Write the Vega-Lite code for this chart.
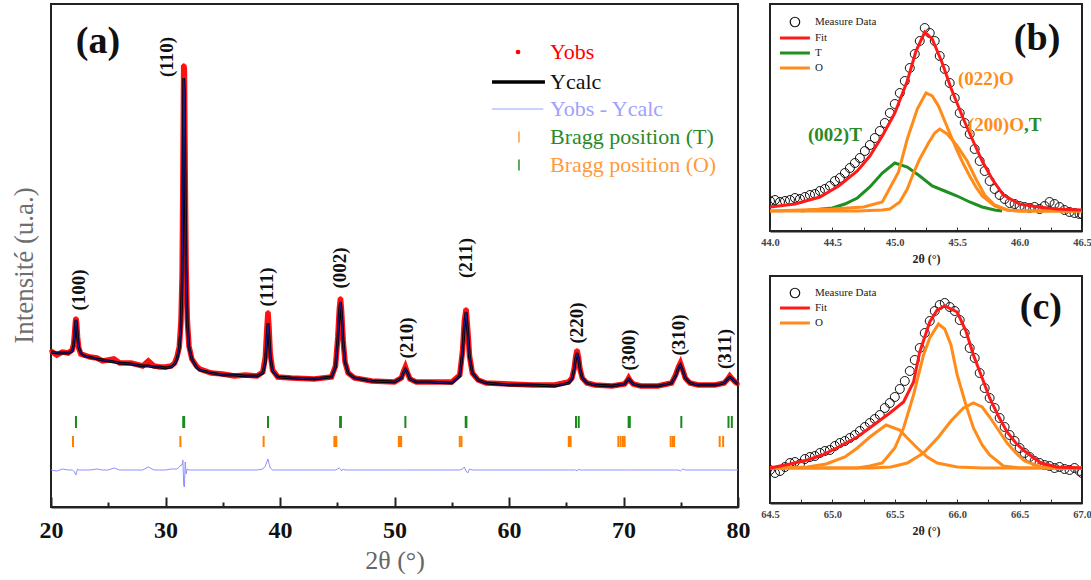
{
  "$schema": "https://vega.github.io/schema/vega-lite/v6.json",
  "background": "white",
  "padding": {"left": 9, "top": 3, "right": 0, "bottom": 0},
  "bounds": "flush",
  "spacing": 32,
  "config": {
    "view": {"stroke": "#222", "strokeWidth": 2},
    "axis": {"grid": false},
    "text": {"font": "Liberation Serif"}
  },
  "datasets": {
    "pattern": [
      {"t":20.0,"calc":155,"obs":156,"diff":37},{"t":20.5,"calc":154,"obs":152,"diff":36},{"t":21.0,"calc":154,"obs":155,"diff":38},
      {"t":21.5,"calc":154,"obs":154,"diff":37},{"t":21.85,"calc":156,"obs":157,"diff":37},{"t":21.98,"calc":162,"obs":163,"diff":36},
      {"t":22.06,"calc":172,"obs":174,"diff":35},{"t":22.13,"calc":183,"obs":185,"diff":33},{"t":22.18,"calc":187,"obs":189,"diff":32},
      {"t":22.24,"calc":182,"obs":184,"diff":35},{"t":22.32,"calc":170,"obs":170,"diff":38},{"t":22.42,"calc":160,"obs":159,"diff":37},
      {"t":22.6,"calc":154,"obs":153,"diff":37},{"t":22.9,"calc":151,"obs":152,"diff":37},{"t":23.4,"calc":150,"obs":150,"diff":37},
      {"t":24.0,"calc":148,"obs":149,"diff":38},{"t":24.5,"calc":147,"obs":146,"diff":37},{"t":25.0,"calc":146,"obs":147,"diff":37},
      {"t":25.5,"calc":145,"obs":148,"diff":39},{"t":26.0,"calc":144,"obs":144,"diff":37},{"t":27.0,"calc":143,"obs":144,"diff":37},
      {"t":28.0,"calc":141,"obs":141,"diff":37},{"t":28.5,"calc":141,"obs":146,"diff":40},{"t":29.0,"calc":140,"obs":141,"diff":37},
      {"t":29.5,"calc":140,"obs":140,"diff":37},{"t":30.0,"calc":139,"obs":140,"diff":37},{"t":30.5,"calc":140,"obs":141,"diff":38},
      {"t":30.8,"calc":143,"obs":144,"diff":38},{"t":31.0,"calc":148,"obs":150,"diff":38},{"t":31.2,"calc":158,"obs":160,"diff":40},
      {"t":31.35,"calc":180,"obs":185,"diff":42},{"t":31.45,"calc":225,"obs":232,"diff":42},{"t":31.52,"calc":320,"obs":330,"diff":47},
      {"t":31.59,"calc":429,"obs":442,"diff":22},{"t":31.65,"calc":415,"obs":438,"diff":20},{"t":31.72,"calc":320,"obs":335,"diff":45},
      {"t":31.8,"calc":235,"obs":240,"diff":33},{"t":31.9,"calc":185,"obs":188,"diff":38},{"t":32.05,"calc":160,"obs":161,"diff":37},
      {"t":32.3,"calc":148,"obs":148,"diff":37},{"t":32.7,"calc":140,"obs":141,"diff":37},{"t":33.0,"calc":137,"obs":138,"diff":37},
      {"t":34.0,"calc":134,"obs":134,"diff":37},{"t":35.0,"calc":132,"obs":133,"diff":37},{"t":36.0,"calc":132,"obs":131,"diff":37},
      {"t":37.0,"calc":131,"obs":132,"diff":37},{"t":38.0,"calc":131,"obs":131,"diff":37},{"t":38.5,"calc":134,"obs":135,"diff":38},
      {"t":38.72,"calc":145,"obs":150,"diff":41},{"t":38.85,"calc":168,"obs":178,"diff":45},{"t":38.95,"calc":184,"obs":195,"diff":48},
      {"t":39.05,"calc":170,"obs":178,"diff":43},{"t":39.15,"calc":150,"obs":153,"diff":39},{"t":39.35,"calc":136,"obs":137,"diff":37},
      {"t":39.8,"calc":130,"obs":130,"diff":37},{"t":41.0,"calc":129,"obs":129,"diff":37},{"t":43.0,"calc":128,"obs":128,"diff":37},
      {"t":44.5,"calc":130,"obs":130,"diff":37},{"t":44.85,"calc":140,"obs":141,"diff":37},{"t":45.05,"calc":168,"obs":170,"diff":38},
      {"t":45.18,"calc":195,"obs":198,"diff":39},{"t":45.28,"calc":205,"obs":209,"diff":38},{"t":45.38,"calc":193,"obs":196,"diff":36},
      {"t":45.52,"calc":165,"obs":166,"diff":38},{"t":45.68,"calc":145,"obs":145,"diff":37},{"t":45.95,"calc":134,"obs":134,"diff":37},
      {"t":46.5,"calc":129,"obs":129,"diff":37},{"t":48.0,"calc":126,"obs":126,"diff":37},{"t":50.0,"calc":125,"obs":125,"diff":37},
      {"t":50.6,"calc":129,"obs":129,"diff":37},{"t":50.8,"calc":135,"obs":136,"diff":37},{"t":50.95,"calc":138,"obs":140,"diff":37},
      {"t":51.1,"calc":135,"obs":135,"diff":37},{"t":51.35,"calc":128,"obs":128,"diff":37},{"t":51.9,"calc":125,"obs":125,"diff":37},
      {"t":53.0,"calc":125,"obs":125,"diff":37},{"t":55.0,"calc":124,"obs":125,"diff":37},{"t":55.7,"calc":131,"obs":132,"diff":37},
      {"t":55.95,"calc":155,"obs":157,"diff":38},{"t":56.1,"calc":182,"obs":186,"diff":40},{"t":56.25,"calc":195,"obs":198,"diff":36},
      {"t":56.4,"calc":175,"obs":177,"diff":34},{"t":56.55,"calc":150,"obs":151,"diff":38},{"t":56.8,"calc":134,"obs":134,"diff":37},
      {"t":57.3,"calc":127,"obs":127,"diff":37},{"t":58.0,"calc":124,"obs":124,"diff":37},{"t":60.0,"calc":122,"obs":123,"diff":37},
      {"t":62.0,"calc":122,"obs":122,"diff":37},{"t":64.0,"calc":121,"obs":122,"diff":37},{"t":65.2,"calc":124,"obs":125,"diff":37},
      {"t":65.5,"calc":128,"obs":129,"diff":37},{"t":65.7,"calc":138,"obs":139,"diff":37},{"t":65.82,"calc":148,"obs":150,"diff":37},
      {"t":65.94,"calc":154,"obs":157,"diff":36},{"t":66.08,"calc":148,"obs":149,"diff":38},{"t":66.2,"calc":138,"obs":138,"diff":37},
      {"t":66.4,"calc":129,"obs":129,"diff":37},{"t":66.8,"calc":124,"obs":124,"diff":37},{"t":67.5,"calc":122,"obs":122,"diff":37},
      {"t":69.0,"calc":121,"obs":121,"diff":37},{"t":70.1,"calc":123,"obs":123,"diff":37},{"t":70.3,"calc":126,"obs":126,"diff":37},
      {"t":70.45,"calc":128,"obs":129,"diff":37},{"t":70.6,"calc":126,"obs":126,"diff":37},{"t":70.85,"calc":123,"obs":123,"diff":37},
      {"t":71.5,"calc":121,"obs":121,"diff":37},{"t":73.0,"calc":121,"obs":121,"diff":37},{"t":74.2,"calc":124,"obs":124,"diff":37},
      {"t":74.55,"calc":131,"obs":132,"diff":37},{"t":74.8,"calc":139,"obs":140,"diff":37},{"t":74.97,"calc":142,"obs":144,"diff":36},
      {"t":75.15,"calc":137,"obs":138,"diff":38},{"t":75.4,"calc":129,"obs":129,"diff":37},{"t":75.8,"calc":124,"obs":124,"diff":37},
      {"t":76.5,"calc":122,"obs":122,"diff":37},{"t":78.0,"calc":122,"obs":122,"diff":37},{"t":78.8,"calc":124,"obs":124,"diff":37},
      {"t":79.1,"calc":128,"obs":128,"diff":37},{"t":79.28,"calc":130,"obs":131,"diff":37},{"t":79.5,"calc":128,"obs":128,"diff":37},
      {"t":79.75,"calc":125,"obs":125,"diff":37},{"t":80.0,"calc":123,"obs":123,"diff":37}
    ],
    "braggT": [
      {"t":22.18},{"t":31.55},{"t":31.63},{"t":38.95},{"t":45.25},{"t":45.32},{"t":50.95},{"t":56.22},{"t":56.28},
      {"t":65.85},{"t":66.09},{"t":70.45},{"t":70.55},{"t":75.05},{"t":79.17},{"t":79.46}
    ],
    "braggO": [
      {"t":21.92},{"t":31.3},{"t":38.57},{"t":44.75},{"t":44.85},{"t":44.92},{"t":50.38},{"t":50.48},{"t":50.58},
      {"t":55.7},{"t":55.85},{"t":65.22},{"t":65.3},{"t":65.38},{"t":69.55},{"t":69.75},{"t":69.95},{"t":70.1},
      {"t":74.12},{"t":74.3},{"t":74.42},{"t":78.4},{"t":78.7}
    ],
    "peaks": [
      {"hkl":"(100)","t":22.45,"y":217},{"hkl":"(110)","t":30.13,"y":450},{"hkl":"(111)","t":38.87,"y":220},
      {"hkl":"(002)","t":45.24,"y":239},{"hkl":"(210)","t":51.09,"y":169},{"hkl":"(211)","t":56.25,"y":249},
      {"hkl":"(220)","t":65.94,"y":184},{"hkl":"(300)","t":70.48,"y":157},{"hkl":"(310)","t":74.85,"y":172},
      {"hkl":"(311)","t":78.87,"y":158}
    ],
    "legendA": [
      {"label":"Yobs","y":455},{"label":"Ycalc","y":425},{"label":"Yobs - Ycalc","y":398},
      {"label":"Bragg position (T)","y":370},{"label":"Bragg position (O)","y":342}
    ],
    "bObs": [
      {"t":44.00,"y":30},{"t":44.04,"y":31},{"t":44.08,"y":29},{"t":44.12,"y":30},{"t":44.16,"y":31},{"t":44.20,"y":33},
      {"t":44.24,"y":32},{"t":44.28,"y":34},{"t":44.32,"y":36},{"t":44.36,"y":37},{"t":44.40,"y":40},{"t":44.44,"y":42},
      {"t":44.48,"y":45},{"t":44.52,"y":50},{"t":44.56,"y":53},{"t":44.60,"y":58},{"t":44.64,"y":63},{"t":44.68,"y":68},
      {"t":44.72,"y":73},{"t":44.76,"y":80},{"t":44.80,"y":86},{"t":44.84,"y":93},{"t":44.88,"y":100},{"t":44.92,"y":108},
      {"t":44.96,"y":118},{"t":45.00,"y":127},{"t":45.04,"y":138},{"t":45.08,"y":150},{"t":45.12,"y":163},{"t":45.16,"y":177},
      {"t":45.20,"y":190},{"t":45.24,"y":203},{"t":45.28,"y":198},{"t":45.32,"y":190},{"t":45.36,"y":175},{"t":45.40,"y":162},
      {"t":45.44,"y":148},{"t":45.48,"y":133},{"t":45.52,"y":118},{"t":45.56,"y":108},{"t":45.60,"y":97},{"t":45.64,"y":82},
      {"t":45.68,"y":70},{"t":45.72,"y":60},{"t":45.76,"y":50},{"t":45.80,"y":42},{"t":45.84,"y":36},{"t":45.88,"y":32},
      {"t":45.92,"y":28},{"t":45.96,"y":27},{"t":46.00,"y":25},{"t":46.04,"y":24},{"t":46.08,"y":23},{"t":46.12,"y":24},
      {"t":46.16,"y":22},{"t":46.20,"y":25},{"t":46.24,"y":29},{"t":46.28,"y":27},{"t":46.32,"y":24},{"t":46.36,"y":21},
      {"t":46.40,"y":19},{"t":46.44,"y":18},{"t":46.48,"y":17},{"t":46.50,"y":17}
    ],
    "bFit": [
      {"t":44.0,"y":24},{"t":44.2,"y":27},{"t":44.4,"y":34},{"t":44.55,"y":45},{"t":44.7,"y":60},{"t":44.8,"y":75},
      {"t":44.9,"y":95},{"t":45.0,"y":118},{"t":45.1,"y":150},{"t":45.17,"y":180},{"t":45.24,"y":199},{"t":45.3,"y":192},
      {"t":45.38,"y":168},{"t":45.45,"y":143},{"t":45.55,"y":112},{"t":45.62,"y":92},{"t":45.7,"y":70},{"t":45.78,"y":52},
      {"t":45.87,"y":36},{"t":46.0,"y":27},{"t":46.15,"y":24},{"t":46.3,"y":22},{"t":46.5,"y":21}
    ],
    "bT": [
      {"t":44.25,"y":20},{"t":44.5,"y":23},{"t":44.6,"y":27},{"t":44.7,"y":33},{"t":44.8,"y":44},{"t":44.9,"y":58},
      {"t":45.0,"y":68},{"t":45.1,"y":64},{"t":45.2,"y":55},{"t":45.3,"y":45},{"t":45.4,"y":40},{"t":45.5,"y":35},
      {"t":45.6,"y":29},{"t":45.7,"y":24},{"t":45.8,"y":21},{"t":45.86,"y":20}
    ],
    "bO1": [
      {"t":44.0,"y":20},{"t":44.5,"y":22},{"t":44.75,"y":24},{"t":44.9,"y":29},{"t":45.03,"y":59},{"t":45.1,"y":92},
      {"t":45.18,"y":122},{"t":45.25,"y":138},{"t":45.3,"y":135},{"t":45.35,"y":125},{"t":45.4,"y":110},{"t":45.45,"y":95},
      {"t":45.5,"y":80},{"t":45.55,"y":67},{"t":45.6,"y":55},{"t":45.65,"y":44},{"t":45.7,"y":35},{"t":45.8,"y":25},
      {"t":45.9,"y":21},{"t":46.0,"y":20},{"t":46.5,"y":20}
    ],
    "bO2": [
      {"t":44.0,"y":20},{"t":44.7,"y":20},{"t":44.9,"y":21},{"t":44.96,"y":22},{"t":45.04,"y":29},{"t":45.1,"y":42},
      {"t":45.15,"y":58},{"t":45.2,"y":72},{"t":45.27,"y":88},{"t":45.32,"y":98},{"t":45.36,"y":102},{"t":45.42,"y":97},
      {"t":45.5,"y":85},{"t":45.58,"y":70},{"t":45.65,"y":52},{"t":45.72,"y":36},{"t":45.8,"y":26},{"t":45.9,"y":21},
      {"t":46.0,"y":20},{"t":46.5,"y":20}
    ],
    "legendB": [
      {"label":"Measure Data","y":209},{"label":"Fit","y":193},{"label":"T","y":178},{"label":"O","y":163}
    ],
    "cObs": [
      {"t":64.50,"y":33},{"t":64.54,"y":30},{"t":64.58,"y":32},{"t":64.62,"y":36},{"t":64.66,"y":40},{"t":64.70,"y":41},
      {"t":64.74,"y":39},{"t":64.78,"y":44},{"t":64.82,"y":46},{"t":64.86,"y":47},{"t":64.90,"y":50},{"t":64.94,"y":52},
      {"t":64.98,"y":53},{"t":65.02,"y":57},{"t":65.06,"y":60},{"t":65.10,"y":62},{"t":65.14,"y":65},{"t":65.18,"y":68},
      {"t":65.22,"y":72},{"t":65.26,"y":76},{"t":65.30,"y":80},{"t":65.34,"y":84},{"t":65.38,"y":88},{"t":65.42,"y":95},
      {"t":65.46,"y":100},{"t":65.50,"y":106},{"t":65.54,"y":114},{"t":65.58,"y":122},{"t":65.62,"y":132},{"t":65.66,"y":143},
      {"t":65.70,"y":155},{"t":65.74,"y":170},{"t":65.78,"y":182},{"t":65.82,"y":192},{"t":65.86,"y":198},{"t":65.90,"y":200},
      {"t":65.94,"y":196},{"t":65.98,"y":192},{"t":66.02,"y":183},{"t":66.06,"y":170},{"t":66.10,"y":155},{"t":66.14,"y":145},
      {"t":66.18,"y":130},{"t":66.22,"y":115},{"t":66.26,"y":105},{"t":66.30,"y":95},{"t":66.34,"y":85},{"t":66.38,"y":76},
      {"t":66.42,"y":68},{"t":66.46,"y":62},{"t":66.50,"y":55},{"t":66.54,"y":50},{"t":66.58,"y":46},{"t":66.62,"y":42},
      {"t":66.66,"y":40},{"t":66.70,"y":38},{"t":66.74,"y":37},{"t":66.78,"y":35},{"t":66.82,"y":36},{"t":66.86,"y":34},
      {"t":66.90,"y":33},{"t":66.94,"y":35},{"t":66.98,"y":32},{"t":67.00,"y":30}
    ],
    "cFit": [
      {"t":64.5,"y":35},{"t":64.66,"y":39},{"t":64.8,"y":43},{"t":64.92,"y":48},{"t":65.05,"y":56},{"t":65.2,"y":66},
      {"t":65.33,"y":78},{"t":65.46,"y":90},{"t":65.57,"y":101},{"t":65.65,"y":121},{"t":65.7,"y":151},{"t":65.78,"y":181},
      {"t":65.84,"y":193},{"t":65.9,"y":197},{"t":66.0,"y":191},{"t":66.07,"y":172},{"t":66.13,"y":148},{"t":66.2,"y":125},
      {"t":66.26,"y":105},{"t":66.33,"y":87},{"t":66.4,"y":71},{"t":66.47,"y":60},{"t":66.54,"y":52},{"t":66.67,"y":40},
      {"t":66.8,"y":36},{"t":67.0,"y":35}
    ],
    "cO1": [
      {"t":64.5,"y":35},{"t":64.8,"y":36},{"t":64.95,"y":39},{"t":65.1,"y":46},{"t":65.2,"y":55},{"t":65.3,"y":66},
      {"t":65.43,"y":78},{"t":65.54,"y":73},{"t":65.6,"y":65},{"t":65.68,"y":55},{"t":65.76,"y":46},{"t":65.84,"y":40},
      {"t":66.0,"y":36},{"t":66.2,"y":35},{"t":67.0,"y":35}
    ],
    "cO2": [
      {"t":64.5,"y":35},{"t":65.2,"y":35},{"t":65.3,"y":37},{"t":65.4,"y":40},{"t":65.5,"y":55},{"t":65.57,"y":75},
      {"t":65.65,"y":108},{"t":65.73,"y":148},{"t":65.78,"y":165},{"t":65.85,"y":179},{"t":65.9,"y":174},{"t":65.95,"y":158},
      {"t":66.0,"y":128},{"t":66.07,"y":98},{"t":66.13,"y":75},{"t":66.2,"y":58},{"t":66.26,"y":48},{"t":66.37,"y":37},
      {"t":66.5,"y":35},{"t":67.0,"y":35}
    ],
    "cO3": [
      {"t":64.5,"y":35},{"t":65.3,"y":35},{"t":65.47,"y":36},{"t":65.6,"y":40},{"t":65.73,"y":50},{"t":65.85,"y":66},
      {"t":65.95,"y":82},{"t":66.05,"y":95},{"t":66.13,"y":100},{"t":66.2,"y":96},{"t":66.26,"y":86},{"t":66.33,"y":73},
      {"t":66.4,"y":60},{"t":66.47,"y":50},{"t":66.54,"y":42},{"t":66.67,"y":36},{"t":66.8,"y":35},{"t":67.0,"y":35}
    ],
    "legendC": [
      {"label":"Measure Data","y":210},{"label":"Fit","y":195},{"label":"O","y":180}
    ]
  },
  "hconcat": [
    {
      "width": 687,
      "height": 503,
      "resolve": {"axis": {"x": "independent", "y": "independent"}},
      "layer": [
        {
          "data": {"name": "pattern"},
          "mark": {"type": "line", "color": "#ff1010", "strokeWidth": 5.5},
          "encoding": {
            "x": {"field": "t", "type": "quantitative", "scale": {"domain": [20, 80], "nice": false, "zero": false},
              "axis": {"orient": "bottom", "values": [20, 30, 40, 50, 60, 70, 80], "format": "d", "tickSize": -10, "tickWidth": 2, "tickColor": "#222",
                "domainColor": "#222", "domainWidth": 2, "labelFont": "Liberation Serif", "labelFontSize": 24, "labelFontWeight": "bold",
                "labelColor": "#111", "labelPadding": 21, "labelFlush": false, "labelOverlap": false,
                "title": "2θ (°)", "titleFont": "Liberation Serif", "titleFontSize": 26, "titleFontWeight": "normal", "titleColor": "#666", "titlePadding": 5}},
            "y": {"field": "obs", "type": "quantitative", "scale": {"domain": [0, 503], "nice": false},
              "axis": {"orient": "left", "title": "Intensité (u.a.)", "labels": false, "ticks": false, "domain": true, "domainOpacity": 0, "titleFont": "Liberation Serif",
                "titleFontSize": 27, "titleFontWeight": "normal", "titleColor": "#6e6e6e", "titlePadding": 13, "titleY": 261}}
          }
        },
        {
          "data": {"name": "pattern"},
          "mark": {"type": "circle", "color": "#ff1010", "size": 14, "opacity": 1},
          "encoding": {
            "x": {"field": "t", "type": "quantitative", "axis": null},
            "y": {"field": "obs", "type": "quantitative", "axis": null}
          }
        },
        {
          "data": {"name": "pattern"},
          "mark": {"type": "line", "color": "#000000", "strokeWidth": 2.8},
          "encoding": {
            "x": {"field": "t", "type": "quantitative", "axis": null},
            "y": {"field": "calc", "type": "quantitative", "axis": null}
          }
        },
        {
          "data": {"name": "pattern"},
          "mark": {"type": "line", "color": "#1a1a90", "strokeWidth": 1.2},
          "encoding": {
            "x": {"field": "t", "type": "quantitative", "axis": null},
            "y": {"field": "calc", "type": "quantitative", "axis": null}
          }
        },
        {
          "data": {"name": "pattern"},
          "mark": {"type": "line", "color": "#9090ff", "strokeWidth": 1},
          "encoding": {
            "x": {"field": "t", "type": "quantitative",
              "axis": {"orient": "bottom", "values": [25, 35, 45, 55, 65, 75], "tickSize": -5, "tickWidth": 2, "tickColor": "#222",
                "labels": false, "domain": false, "title": null}},
            "y": {"field": "diff", "type": "quantitative", "axis": null}
          }
        },
        {
          "data": {"name": "braggT"},
          "mark": {"type": "rule", "color": "#1a8a1a", "strokeWidth": 2},
          "encoding": {
            "x": {"field": "t", "type": "quantitative", "axis": null},
            "y": {"datum": 79, "axis": null},
            "y2": {"datum": 91}
          }
        },
        {
          "data": {"name": "braggO"},
          "mark": {"type": "rule", "color": "#ff8000", "strokeWidth": 2},
          "encoding": {
            "x": {"field": "t", "type": "quantitative", "axis": null},
            "y": {"datum": 60, "axis": null},
            "y2": {"datum": 71}
          }
        },
        {
          "data": {"name": "peaks"},
          "mark": {"type": "text", "angle": 270, "align": "center", "baseline": "middle", "font": "Liberation Serif", "fontSize": 19, "fontWeight": "bold", "color": "#111"},
          "encoding": {
            "x": {"field": "t", "type": "quantitative", "axis": null},
            "y": {"field": "y", "type": "quantitative", "axis": null},
            "text": {"field": "hkl"}
          }
        },
        {
          "data": {"values": [{"label": "(a)", "t": 24.1, "y": 465}]},
          "mark": {"type": "text", "align": "center", "baseline": "middle", "font": "Liberation Serif", "fontSize": 38, "fontWeight": "bold", "color": "#111"},
          "encoding": {
            "x": {"field": "t", "type": "quantitative", "axis": null},
            "y": {"field": "y", "type": "quantitative", "axis": null},
            "text": {"field": "label"}
          }
        },
        {
          "data": {"name": "legendA"},
          "mark": {"type": "text", "align": "left", "baseline": "middle", "font": "Liberation Serif", "fontSize": 22},
          "encoding": {
            "x": {"datum": 63.58, "axis": null},
            "y": {"field": "y", "type": "quantitative", "axis": null},
            "text": {"field": "label"},
            "color": {"field": "label", "type": "nominal", "legend": null,
              "scale": {"domain": ["Yobs", "Ycalc", "Yobs - Ycalc", "Bragg position (T)", "Bragg position (O)"],
                "range": ["#ff0000", "#111111", "#a0a0ff", "#2a8a2a", "#ff9a40"]}}
          }
        },
        {
          "data": {"name": "legendA"},
          "transform": [{"filter": "datum.label == 'Yobs'"}],
          "mark": {"type": "circle", "color": "#ff0000", "size": 22, "opacity": 1},
          "encoding": {
            "x": {"datum": 60.79, "axis": null},
            "y": {"field": "y", "type": "quantitative", "axis": null}
          }
        },
        {
          "data": {"name": "legendA"},
          "transform": [{"filter": "datum.label == 'Ycalc'"}],
          "mark": {"type": "rule", "color": "#000000", "strokeWidth": 3.5},
          "encoding": {
            "x": {"datum": 58.52, "axis": null},
            "x2": {"datum": 63.14},
            "y": {"field": "y", "type": "quantitative", "axis": null}
          }
        },
        {
          "data": {"name": "legendA"},
          "transform": [{"filter": "datum.label == 'Yobs - Ycalc'"}],
          "mark": {"type": "rule", "color": "#a0a0ff", "strokeWidth": 1},
          "encoding": {
            "x": {"datum": 58.52, "axis": null},
            "x2": {"datum": 63.0},
            "y": {"field": "y", "type": "quantitative", "axis": null}
          }
        },
        {
          "data": {"name": "legendA"},
          "transform": [{"filter": "datum.label == 'Bragg position (T)'"}],
          "mark": {"type": "tick", "orient": "vertical", "color": "#ff9a40", "size": 11, "thickness": 1.5, "opacity": 1},
          "encoding": {
            "x": {"datum": 60.87, "axis": null},
            "y": {"field": "y", "type": "quantitative", "axis": null}
          }
        },
        {
          "data": {"name": "legendA"},
          "transform": [{"filter": "datum.label == 'Bragg position (O)'"}],
          "mark": {"type": "tick", "orient": "vertical", "color": "#2a8a2a", "size": 11, "thickness": 1.5, "opacity": 1},
          "encoding": {
            "x": {"datum": 60.87, "axis": null},
            "y": {"field": "y", "type": "quantitative", "axis": null}
          }
        }
      ]
    },
    {
      "bounds": "flush",
      "spacing": 45,
      "vconcat": [
        {
          "width": 312,
          "height": 227,
          "resolve": {"axis": {"x": "independent"}},
          "layer": [
            {
              "data": {"name": "bObs"},
              "mark": {"type": "point", "shape": "circle", "filled": false, "size": 80, "color": "#111", "strokeWidth": 1, "opacity": 1, "clip": true},
              "encoding": {
                "x": {"field": "t", "type": "quantitative", "scale": {"domain": [44, 46.5], "nice": false, "zero": false},
                  "axis": {"orient": "bottom", "values": [44, 44.25, 44.5, 44.75, 45, 45.25, 45.5, 45.75, 46, 46.25, 46.5],
                    "labelExpr": "(datum.value * 4) % 2 == 0 ? format(datum.value, '.1f') : ''",
                    "tickSize": -4, "tickWidth": 1, "tickColor": "#333", "domainColor": "#222", "domainWidth": 2,
                    "labelFont": "Liberation Serif", "labelFontSize": 10.5, "labelFontWeight": "bold", "labelColor": "#444",
                    "labelPadding": 10, "labelFlush": false, "labelOverlap": false,
                    "title": "2θ (°)", "titleFont": "Liberation Serif", "titleFontSize": 12, "titleFontWeight": "bold", "titleColor": "#222", "titlePadding": 6}},
                "y": {"field": "y", "type": "quantitative", "scale": {"domain": [0, 227], "nice": false}, "axis": null}
              }
            },
            {
              "data": {"name": "bT"},
              "mark": {"type": "line", "color": "#1f8f1f", "strokeWidth": 3},
              "encoding": {
                "x": {"field": "t", "type": "quantitative", "axis": null},
                "y": {"field": "y", "type": "quantitative", "axis": null}
              }
            },
            {
              "data": {"name": "bO1"},
              "mark": {"type": "line", "color": "#ff8c1a", "strokeWidth": 3},
              "encoding": {
                "x": {"field": "t", "type": "quantitative", "axis": null},
                "y": {"field": "y", "type": "quantitative", "axis": null}
              }
            },
            {
              "data": {"name": "bO2"},
              "mark": {"type": "line", "color": "#ff8c1a", "strokeWidth": 3},
              "encoding": {
                "x": {"field": "t", "type": "quantitative", "axis": null},
                "y": {"field": "y", "type": "quantitative", "axis": null}
              }
            },
            {
              "data": {"name": "bFit"},
              "mark": {"type": "line", "color": "#ff1a1a", "strokeWidth": 3},
              "encoding": {
                "x": {"field": "t", "type": "quantitative", "axis": null},
                "y": {"field": "y", "type": "quantitative", "axis": null}
              }
            },
            {
              "data": {"values": [{"label": "(002)T", "t": 44.52, "y": 96}]},
              "mark": {"type": "text", "align": "center", "baseline": "middle", "font": "Liberation Serif", "fontSize": 19, "fontWeight": "bold", "color": "#2a8a2a"},
              "encoding": {
                "x": {"field": "t", "type": "quantitative", "axis": null},
                "y": {"field": "y", "type": "quantitative", "axis": null},
                "text": {"field": "label"}
              }
            },
            {
              "data": {"values": [{"label": "(022)O", "t": 45.73, "y": 152}]},
              "mark": {"type": "text", "align": "center", "baseline": "middle", "font": "Liberation Serif", "fontSize": 19, "fontWeight": "bold", "color": "#ff8c1a"},
              "encoding": {
                "x": {"field": "t", "type": "quantitative", "axis": null},
                "y": {"field": "y", "type": "quantitative", "axis": null},
                "text": {"field": "label"}
              }
            },
            {
              "data": {"values": [{"label": "(200)O", "t": 46.035, "y": 106}]},
              "mark": {"type": "text", "align": "right", "baseline": "middle", "font": "Liberation Serif", "fontSize": 19, "fontWeight": "bold", "color": "#ff8c1a"},
              "encoding": {
                "x": {"field": "t", "type": "quantitative", "axis": null},
                "y": {"field": "y", "type": "quantitative", "axis": null},
                "text": {"field": "label"}
              }
            },
            {
              "data": {"values": [{"label": ",T", "t": 46.035, "y": 106}]},
              "mark": {"type": "text", "align": "left", "baseline": "middle", "font": "Liberation Serif", "fontSize": 19, "fontWeight": "bold", "color": "#2a8a2a"},
              "encoding": {
                "x": {"field": "t", "type": "quantitative", "axis": null},
                "y": {"field": "y", "type": "quantitative", "axis": null},
                "text": {"field": "label"}
              }
            },
            {
              "data": {"values": [{"label": "(b)", "t": 46.14, "y": 192}]},
              "mark": {"type": "text", "align": "center", "baseline": "middle", "font": "Liberation Serif", "fontSize": 38, "fontWeight": "bold", "color": "#111"},
              "encoding": {
                "x": {"field": "t", "type": "quantitative", "axis": null},
                "y": {"field": "y", "type": "quantitative", "axis": null},
                "text": {"field": "label"}
              }
            },
            {
              "data": {"name": "legendB"},
              "mark": {"type": "text", "align": "left", "baseline": "middle", "font": "Liberation Serif", "fontSize": 11, "color": "#222"},
              "encoding": {
                "x": {"datum": 44.36, "axis": null},
                "y": {"field": "y", "type": "quantitative", "axis": null},
                "text": {"field": "label"}
              }
            },
            {
              "data": {"name": "legendB"},
              "transform": [{"filter": "datum.label == 'Measure Data'"}],
              "mark": {"type": "point", "shape": "circle", "filled": false, "size": 90, "color": "#111", "strokeWidth": 1.2, "opacity": 1},
              "encoding": {
                "x": {"datum": 44.2, "axis": null},
                "y": {"field": "y", "type": "quantitative", "axis": null}
              }
            },
            {
              "data": {"name": "legendB"},
              "transform": [{"filter": "datum.label == 'Fit'"}],
              "mark": {"type": "rule", "color": "#ff1a1a", "strokeWidth": 3},
              "encoding": {
                "x": {"datum": 44.08, "axis": null},
                "x2": {"datum": 44.32},
                "y": {"field": "y", "type": "quantitative", "axis": null}
              }
            },
            {
              "data": {"name": "legendB"},
              "transform": [{"filter": "datum.label == 'T'"}],
              "mark": {"type": "rule", "color": "#1f8f1f", "strokeWidth": 3},
              "encoding": {
                "x": {"datum": 44.08, "axis": null},
                "x2": {"datum": 44.32},
                "y": {"field": "y", "type": "quantitative", "axis": null}
              }
            },
            {
              "data": {"name": "legendB"},
              "transform": [{"filter": "datum.label == 'O'"}],
              "mark": {"type": "rule", "color": "#ff8c1a", "strokeWidth": 3},
              "encoding": {
                "x": {"datum": 44.08, "axis": null},
                "x2": {"datum": 44.32},
                "y": {"field": "y", "type": "quantitative", "axis": null}
              }
            }
          ]
        },
        {
          "width": 312,
          "height": 227,
          "resolve": {"axis": {"x": "independent"}},
          "layer": [
            {
              "data": {"name": "cObs"},
              "mark": {"type": "point", "shape": "circle", "filled": false, "size": 80, "color": "#111", "strokeWidth": 1, "opacity": 1, "clip": true},
              "encoding": {
                "x": {"field": "t", "type": "quantitative", "scale": {"domain": [64.5, 67], "nice": false, "zero": false},
                  "axis": {"orient": "bottom", "values": [64.5, 64.75, 65, 65.25, 65.5, 65.75, 66, 66.25, 66.5, 66.75, 67],
                    "labelExpr": "(datum.value * 4) % 2 == 0 ? format(datum.value, '.1f') : ''",
                    "tickSize": -4, "tickWidth": 1, "tickColor": "#333", "domainColor": "#222", "domainWidth": 2,
                    "labelFont": "Liberation Serif", "labelFontSize": 10.5, "labelFontWeight": "bold", "labelColor": "#444",
                    "labelPadding": 10, "labelFlush": false, "labelOverlap": false,
                    "title": "2θ (°)", "titleFont": "Liberation Serif", "titleFontSize": 12, "titleFontWeight": "bold", "titleColor": "#222", "titlePadding": 6}},
                "y": {"field": "y", "type": "quantitative", "scale": {"domain": [0, 227], "nice": false}, "axis": null}
              }
            },
            {
              "data": {"name": "cO1"},
              "mark": {"type": "line", "color": "#ff8c1a", "strokeWidth": 3},
              "encoding": {
                "x": {"field": "t", "type": "quantitative", "axis": null},
                "y": {"field": "y", "type": "quantitative", "axis": null}
              }
            },
            {
              "data": {"name": "cO2"},
              "mark": {"type": "line", "color": "#ff8c1a", "strokeWidth": 3},
              "encoding": {
                "x": {"field": "t", "type": "quantitative", "axis": null},
                "y": {"field": "y", "type": "quantitative", "axis": null}
              }
            },
            {
              "data": {"name": "cO3"},
              "mark": {"type": "line", "color": "#ff8c1a", "strokeWidth": 3},
              "encoding": {
                "x": {"field": "t", "type": "quantitative", "axis": null},
                "y": {"field": "y", "type": "quantitative", "axis": null}
              }
            },
            {
              "data": {"name": "cFit"},
              "mark": {"type": "line", "color": "#ff1a1a", "strokeWidth": 3},
              "encoding": {
                "x": {"field": "t", "type": "quantitative", "axis": null},
                "y": {"field": "y", "type": "quantitative", "axis": null}
              }
            },
            {
              "data": {"values": [{"label": "(c)", "t": 66.67, "y": 195}]},
              "mark": {"type": "text", "align": "center", "baseline": "middle", "font": "Liberation Serif", "fontSize": 38, "fontWeight": "bold", "color": "#111"},
              "encoding": {
                "x": {"field": "t", "type": "quantitative", "axis": null},
                "y": {"field": "y", "type": "quantitative", "axis": null},
                "text": {"field": "label"}
              }
            },
            {
              "data": {"name": "legendC"},
              "mark": {"type": "text", "align": "left", "baseline": "middle", "font": "Liberation Serif", "fontSize": 11, "color": "#222"},
              "encoding": {
                "x": {"datum": 64.86, "axis": null},
                "y": {"field": "y", "type": "quantitative", "axis": null},
                "text": {"field": "label"}
              }
            },
            {
              "data": {"name": "legendC"},
              "transform": [{"filter": "datum.label == 'Measure Data'"}],
              "mark": {"type": "point", "shape": "circle", "filled": false, "size": 90, "color": "#111", "strokeWidth": 1.2, "opacity": 1},
              "encoding": {
                "x": {"datum": 64.7, "axis": null},
                "y": {"field": "y", "type": "quantitative", "axis": null}
              }
            },
            {
              "data": {"name": "legendC"},
              "transform": [{"filter": "datum.label == 'Fit'"}],
              "mark": {"type": "rule", "color": "#ff1a1a", "strokeWidth": 3},
              "encoding": {
                "x": {"datum": 64.58, "axis": null},
                "x2": {"datum": 64.82},
                "y": {"field": "y", "type": "quantitative", "axis": null}
              }
            },
            {
              "data": {"name": "legendC"},
              "transform": [{"filter": "datum.label == 'O'"}],
              "mark": {"type": "rule", "color": "#ff8c1a", "strokeWidth": 3},
              "encoding": {
                "x": {"datum": 64.58, "axis": null},
                "x2": {"datum": 64.82},
                "y": {"field": "y", "type": "quantitative", "axis": null}
              }
            }
          ]
        }
      ]
    }
  ]
}
